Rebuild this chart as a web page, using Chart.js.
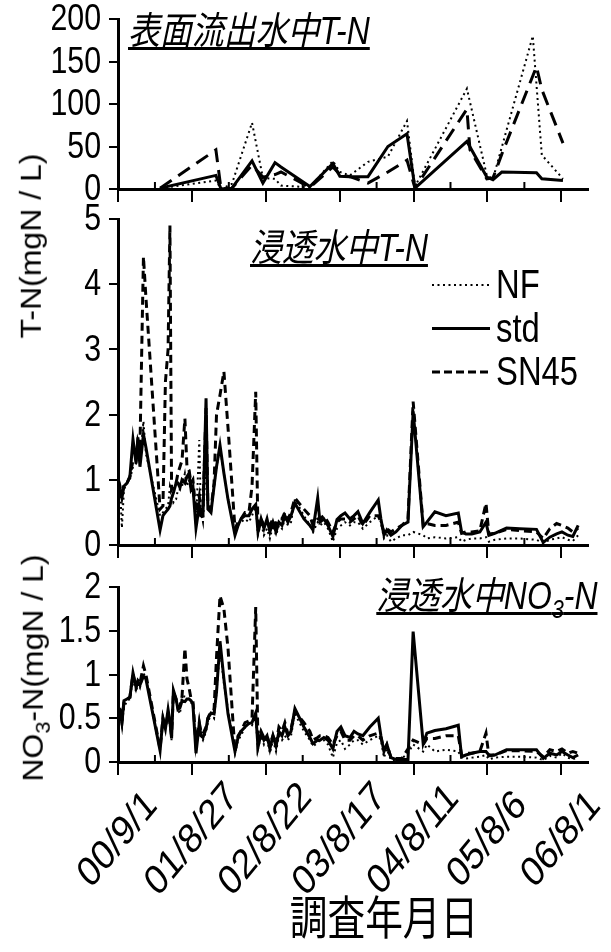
<!DOCTYPE html>
<html>
<head>
<meta charset="utf-8">
<script src="https://cdn.jsdelivr.net/npm/chart.js@4.4.0/dist/chart.umd.min.js"></script>
<style>
  body { margin: 0; background: #fff; }
  #wrap { position: relative; width: 611px; height: 952px; overflow: hidden; color: #000;
          font-family: "Liberation Sans", Arial, "Noto Sans CJK JP", sans-serif; }
  canvas { position: absolute; left: 0; }
  .ttl { position: absolute; font-size: 38px; font-style: italic; line-height: 1; white-space: nowrap;
         text-decoration: underline; text-decoration-thickness: 3px; text-underline-offset: 3px;
         text-decoration-skip-ink: none; transform: scaleX(0.84); transform-origin: left top; }
  .ttl.r { transform-origin: right top; }
  .ylab { position: absolute; font-size: 32px; line-height: 1; white-space: nowrap;
          transform: translate(-50%, -50%) scaleX(0.9) rotate(-90deg); }
  .xlab { position: absolute; font-size: 46px; line-height: 1; white-space: nowrap;
          font-family: "Noto Sans CJK JP", sans-serif; transform: translate(-50%, -50%) scaleX(0.82); }
  sub { font-size: 0.68em; line-height: 0; }
</style>
</head>
<body>
<div id="wrap">
  <canvas id="cSurf" width="611" height="216" style="top:0"></canvas>
  <canvas id="cTN" width="611" height="370" style="top:196px"></canvas>
  <canvas id="cNO3" width="611" height="392" style="top:560px"></canvas>
  <div class="ttl" style="left:128px;top:12px">表面流出水中T-N</div>
  <div class="ttl" style="left:250px;top:229px">浸透水中T-N</div>
  <div class="ttl r" style="right:14px;top:577px">浸透水中NO<sub>3</sub>-N</div>
  <div class="ylab" style="left:31px;top:246px">T-N(mgN / L)</div>
  <div class="ylab" style="left:33px;top:668px">NO<sub>3</sub>-N(mgN / L)</div>
  <div class="xlab" style="left:384px;top:914px">調査年月日</div>
</div>
<script>
// x values are days since 2000-09-01; labelled ticks every 360 days
const tickLabels = ['00/9/1', '01/8/27', '02/8/22', '03/8/17', '04/8/11', '05/8/6', '06/8/1'];
const seriesNames = ['NF', 'std', 'SN45'];

// surface runoff T-N (mgN/L)
const surfDays = [205, 477, 502, 555, 653, 706, 765, 794, 935, 1047, 1081, 1130, 1218, 1315, 1408, 1447, 1700, 1715, 1797, 1827, 1870, 2021, 2039, 2065, 2168];
const surfNF   = [1, 10, 0, 6, 78, 13, 12, 4, 2, 33, 20, 16, 32, 38, 80, 3, 118, null, 16, 12, null, 180, null, 40, 12];
const surfStd  = [1, 16, 0, 1, 33, 7, 31, 26, 3, 30, 15, 14.5, 14.5, 50, 65, 1, 56, null, 14, 11, 20, null, 19, 12, 10];
const surfSN45 = [1, 46, 0, 1, 28, 14, 17, 20, 2, 26, 17, 14.5, 7, 20, 34, 1, 94, 46, 12, 13, 41, null, 144, 117, 54];

// percolation water sampling days
const leachDays = [2, 10, 19, 29, 44, 58, 73, 88, 97, 107, 124, 136, 205, 219, 231, 244, 253, 261, 270, 283,
  292, 302, 312, 326, 336, 346, 356, 365, 380, 396, 404, 414, 429, 438, 453, 468, 480, 497, 516, 536,
  570, 585, 599, 619, 638, 653, 671, 682, 697, 711, 726, 740, 755, 770, 784, 799, 813, 828, 843, 862,
  906, 935, 950, 973, 984, 1003, 1023, 1047, 1067, 1086, 1106, 1130, 1150, 1169, 1193, 1227, 1268, 1281, 1296, 1310,
  1330, 1354, 1383, 1413, 1438, 1487, 1505, 1544, 1598, 1658, 1674, 1695, 1724, 1763, 1793, 1807, 1836, 1893, 1958, 2039,
  2072, 2104, 2137, 2163, 2192, 2216, 2242];

// percolation water T-N (mgN/L)
const tnNF = [1.0, 0.9, 0.26, 0.85, 0.95, 1.0, 1.2, 1.25, 1.55, 1.3, 1.9, 1.4, 0.45, 0.5, 0.55, 0.6, 0.9, 0.8, 0.65, 0.7,
  0.85, 0.85, 0.9, 1.1, 0.9, 1.0, 0.85, 0.9, 0.3, 1.61, 0.5, 0.35, 1.3, 0.6, 0.5, 0.9, 1.2, 1.5, 1.1, 0.7,
  0.2, 0.3, 0.35, 0.4, 0.35, 0.45, 0.6, 0.15, 0.35, 0.15, 0.25, 0.1, 0.3, 0.15, 0.3, 0.25, 0.4, 0.3, 0.35, 0.7,
  0.45, 0.3, 0.2, 0.35, 0.3, 0.35, 0.25, 0.05, 0.25, 0.3, 0.35, 0.3, 0.35, 0.35, 0.25, 0.35, 0.45, 0.35, 0.1, 0.15,
  0.05, 0.1, 0.15, 0.15, 0.2, 0.15, 0.1, 0.12, 0.1, 0.12, 0.05, 0.08, 0.1, 0.1, 0.12, 0.05, 0.08, 0.1, 0.1, 0.08,
  0.03, 0.08, 0.1, 0.12, 0.08, 0.06, 0.15];
const tnStd = [0.98, 0.85, 0.72, 0.9, 0.95, 1.05, 1.62, 1.25, 1.65, 1.2, 1.7, 1.5, 0.23, 0.45, 0.5, 0.55, 0.6, 0.72, 0.8, 0.95,
  0.95, 0.88, 1.0, 0.95, 1.05, 1.1, 0.85, 0.9, 0.26, 0.6, 0.45, 0.45, 2.25, 0.55, 0.5, 0.9, 1.2, 1.53, 1.1, 0.7,
  0.15, 0.3, 0.4, 0.45, 0.45, 0.55, 0.62, 0.2, 0.4, 0.25, 0.4, 0.2, 0.35, 0.2, 0.35, 0.3, 0.45, 0.35, 0.45, 0.64,
  0.4, 0.3, 0.23, 0.72, 0.35, 0.4, 0.3, 0.13, 0.39, 0.45, 0.49, 0.4, 0.45, 0.51, 0.33, 0.5, 0.69, 0.4, 0.15, 0.23,
  0.15, 0.2, 0.3, 0.35, 2.05, 0.28, 0.35, 0.51, 0.45, 0.49, 0.2, 0.17, 0.17, 0.2, 0.35, 0.15, 0.18, 0.26, 0.25, 0.24,
  0.04, 0.12, 0.17, 0.2, 0.15, 0.13, 0.3];
const tnSN45 = [1.0, 0.9, 0.8, 0.92, 0.95, 1.05, 1.3, 1.3, 1.6, 1.5, 4.42, 3.8, 0.55, 0.6, 2.5, 3.0, 4.9, 0.85, 0.9, 0.95,
  1.1, 1.2, 1.3, 1.94, 1.2, 1.15, 0.95, 1.0, 0.5, 0.75, 0.5, 0.55, 2.1, 0.6, 0.55, 0.95, 2.0, 2.3, 2.66, 1.8,
  0.25, 0.35, 0.4, 0.5, 0.5, 0.9, 2.35, 0.2, 0.4, 0.3, 0.35, 0.3, 0.4, 0.3, 0.4, 0.4, 0.5, 0.4, 0.5, 0.72,
  0.55, 0.45, 0.3, 0.4, 0.4, 0.45, 0.35, 0.2, 0.35, 0.4, 0.4, 0.35, 0.4, 0.45, 0.3, 0.45, 0.45, 0.35, 0.2, 0.25,
  0.2, 0.25, 0.3, 0.4, 2.2, 0.3, 0.33, 0.3, 0.3, 0.35, 0.18, 0.2, 0.2, 0.22, 0.64, 0.17, 0.18, 0.24, 0.22, 0.2,
  0.1, 0.25, 0.33, 0.3, 0.26, 0.2, 0.26];

// percolation water NO3-N (mgN/L)
const no3NF = [0.55, 0.5, 0.42, 0.62, 0.7, 0.72, 0.95, 0.8, 0.9, 0.85, 1.02, 0.95, 0.14, 0.45, 0.4, 0.55, 0.44, 0.25, 0.78, 0.7,
  0.6, 0.55, 0.75, 0.75, 0.75, 0.7, 0.68, 0.65, 0.15, 0.4, 0.3, 0.25, 0.35, 0.45, 0.55, 0.5, 0.8, 1.3, 0.9, 0.6,
  0.1, 0.25, 0.3, 0.4, 0.45, 0.42, 0.5, 0.15, 0.3, 0.2, 0.28, 0.1, 0.25, 0.12, 0.3, 0.25, 0.3, 0.25, 0.3, 0.55,
  0.35, 0.25, 0.18, 0.22, 0.25, 0.25, 0.2, 0.05, 0.22, 0.25, 0.15, 0.2, 0.25, 0.25, 0.2, 0.25, 0.3, 0.25, 0.05, 0.15,
  0.02, 0.02, 0.04, 0.1, 0.2, 0.12, 0.2, 0.12, 0.14, 0.12, 0.05, 0.04, 0.05, 0.06, 0.08, 0.03, 0.05, 0.06, 0.06, 0.05,
  0.02, 0.07, 0.05, 0.1, 0.05, 0.03, 0.06];
const no3Std = [0.62, 0.6, 0.45, 0.7, 0.72, 0.74, 1.02, 0.86, 0.92, 0.88, 0.98, 0.95, 0.13, 0.5, 0.38, 0.6, 0.46, 0.27, 0.82, 0.72,
  0.6, 0.62, 0.7, 0.69, 0.72, 0.72, 0.7, 0.66, 0.1, 0.44, 0.3, 0.28, 0.38, 0.5, 0.56, 0.55, 0.8, 1.38, 0.95, 0.55,
  0.12, 0.28, 0.35, 0.4, 0.44, 0.45, 0.56, 0.17, 0.33, 0.25, 0.3, 0.15, 0.3, 0.18, 0.35, 0.3, 0.4, 0.3, 0.35, 0.61,
  0.4, 0.28, 0.21, 0.25, 0.25, 0.28, 0.25, 0.15, 0.35, 0.4, 0.3, 0.28, 0.35, 0.32, 0.3, 0.4, 0.5, 0.3, 0.12, 0.2,
  0.05, 0.03, 0.03, 0.03, 1.49, 0.21, 0.33, 0.36, 0.38, 0.42, 0.06, 0.08, 0.1, 0.12, 0.12, 0.08, 0.08, 0.14, 0.14, 0.14,
  0.04, 0.1, 0.08, 0.12, 0.08, 0.05, 0.08];
const no3SN45 = [0.6, 0.55, 0.45, 0.68, 0.72, 0.74, 1.0, 0.85, 0.93, 0.9, 1.1, 1.0, 0.15, 0.5, 0.4, 0.55, 0.45, 0.3, 0.8, 0.72,
  0.62, 0.65, 0.75, 1.3, 0.95, 0.85, 0.72, 0.7, 0.2, 0.45, 0.35, 0.32, 0.4, 0.5, 0.58, 0.6, 1.2, 1.9, 1.75, 1.3,
  0.12, 0.3, 0.35, 0.45, 0.47, 0.5, 1.77, 0.2, 0.35, 0.28, 0.3, 0.2, 0.3, 0.2, 0.4, 0.35, 0.45, 0.32, 0.38, 0.58,
  0.45, 0.35, 0.25, 0.28, 0.3, 0.3, 0.28, 0.2, 0.3, 0.35, 0.25, 0.25, 0.3, 0.3, 0.25, 0.3, 0.33, 0.28, 0.14, 0.2,
  0.05, 0.04, 0.04, 0.15, 0.25, 0.2, 0.27, 0.27, 0.3, 0.3, 0.08, 0.1, 0.1, 0.12, 0.33, 0.07, 0.08, 0.13, 0.13, 0.12,
  0.06, 0.14, 0.12, 0.15, 0.1, 0.12, 0.1];

const FONT = '"Liberation Sans", Arial, sans-serif';
const SQUEEZE = 0.82;   // the original figure's text is horizontally compressed
Chart.defaults.font.family = FONT;
Chart.defaults.font.size = 30;
Chart.defaults.color = '#000';

// inward minor ticks halfway between the labelled dates
const minorTicks = {
  id: 'minorTicks',
  afterDraw(chart) {
    const x = chart.scales.x, ctx = chart.ctx, b = chart.chartArea.bottom;
    ctx.save();
    ctx.strokeStyle = '#000';
    ctx.lineWidth = 2;
    x.ticks.forEach(t => {
      if (t.value % 360 === 0) return;
      const px = x.getPixelForValue(t.value);
      ctx.beginPath();
      ctx.moveTo(px, b);
      ctx.lineTo(px, b - 7);
      ctx.stroke();
    });
    ctx.restore();
  }
};

// tick labels drawn with condensed text at the scales' own tick positions
const squeezedLabels = {
  id: 'squeezedLabels',
  afterDraw(chart, args, o) {
    const { ctx, chartArea: a } = chart;
    const { x, y } = chart.scales;
    ctx.save();
    ctx.fillStyle = '#000';
    ctx.font = o.ySize + 'px ' + FONT;
    ctx.textAlign = 'right';
    ctx.textBaseline = 'middle';
    y.ticks.forEach(t => {
      ctx.save();
      ctx.translate(a.left - 17, y.getPixelForValue(t.value));
      ctx.scale(SQUEEZE, 1);
      ctx.fillText(t.label, 0, 1);
      ctx.restore();
    });
    if (o.xLabels) {
      ctx.font = o.xSize + 'px ' + FONT;
      ctx.textAlign = 'center';
      x.ticks.forEach(t => {
        if (!t.label) return;
        ctx.save();
        ctx.translate(x.getPixelForValue(t.value), a.bottom + o.xDrop);
        ctx.scale(SQUEEZE, 1);
        ctx.rotate(-Math.PI / 4);
        ctx.fillText(t.label, 0, 0);
        ctx.restore();
      });
    }
    ctx.restore();
  }
};

// legend with line samples, placed inside the plot area
const lineLegend = {
  id: 'lineLegend',
  afterDatasetsDraw(chart, args, opts) {
    if (!opts.show) return;
    const { ctx, chartArea: a } = chart;
    ctx.save();
    ctx.font = '40px ' + FONT;
    ctx.textBaseline = 'middle';
    ctx.fillStyle = '#000';
    chart.data.datasets.forEach((ds, i) => {
      const y = a.top + opts.top + i * opts.gap;
      const x0 = a.right - opts.right;
      ctx.beginPath();
      ctx.setLineDash(ds.legendDash || []);
      ctx.lineWidth = ds.borderWidth;
      ctx.strokeStyle = ds.borderColor;
      ctx.moveTo(x0, y);
      ctx.lineTo(x0 + opts.len, y);
      ctx.stroke();
      ctx.setLineDash([]);
      ctx.save();
      ctx.translate(x0 + opts.len + 6, y + 2);
      ctx.scale(SQUEEZE, 1);
      ctx.fillText(ds.label, 0, 0);
      ctx.restore();
    });
    ctx.restore();
  }
};

function makePanel(id, days, series, yMax, yStep, cfg) {
  const dashes = [[2, 3.5], [], cfg.sn45Dash];
  const widths = [2, 3, 3];
  const legendDashes = [[2, 3.5], [], [8, 4]];
  return new Chart(document.getElementById(id), {
    type: 'line',
    data: {
      datasets: seriesNames.map((name, i) => ({
        label: name,
        data: days.map((d, k) => ({ x: d, y: series[i][k] })),
        borderColor: '#000',
        borderWidth: widths[i],
        borderDash: dashes[i],
        legendDash: legendDashes[i],
        pointRadius: 0,
        tension: 0,
        spanGaps: true,
        fill: false
      }))
    },
    options: {
      responsive: false,
      animation: false,
      devicePixelRatio: 1,
      layout: { padding: { top: cfg.top, right: 23, left: 0, bottom: 0 } },
      plugins: {
        legend: { display: false },
        tooltip: { enabled: false },
        lineLegend: { show: !!cfg.legend, top: 66, gap: 43.5, right: 156, len: 58 },
        squeezedLabels: { ySize: 37, xSize: 42, xDrop: 78, xLabels: !!cfg.labels }
      },
      scales: {
        x: {
          type: 'linear',
          min: 0,
          max: 2290,
          // one tick every half interval up to the last labelled date
          afterBuildTicks: s => {
            s.ticks = [];
            for (let v = 0; v <= (tickLabels.length - 1) * 360; v += 180) s.ticks.push({ value: v });
          },
          afterFit: s => {
            s.height = cfg.xHeight;
            s.paddingLeft = 0; s.paddingRight = 0;
          },
          ticks: {
            display: false,
            autoSkip: false,
            callback: v => (v % 360 === 0 ? tickLabels[v / 360] : '')
          },
          grid: {
            drawOnChartArea: false,
            tickLength: 13,
            color: '#000',
            lineWidth: c => (c.tick && c.tick.value % 360 === 0 ? 2 : 0)
          },
          border: { color: '#000', width: 3 }
        },
        y: {
          min: 0,
          max: yMax,
          afterFit: s => {
            s.width = 118;
            s.paddingTop = 0; s.paddingBottom = 0;
          },
          ticks: { display: false, stepSize: yStep, autoSkip: false, callback: v => String(v) },
          grid: { drawOnChartArea: false, tickLength: 9, color: '#000', lineWidth: 2 },
          border: { color: '#000', width: 3 }
        }
      }
    },
    plugins: [minorTicks, squeezedLabels, lineLegend]
  });
}

makePanel('cSurf', surfDays, [surfNF, surfStd, surfSN45], 200, 50,
  { top: 19, xHeight: 27, sn45Dash: [14, 8] });
makePanel('cTN', leachDays, [tnNF, tnStd, tnSN45], 5, 1,
  { top: 23, xHeight: 21, sn45Dash: [8, 5], legend: true });
makePanel('cNO3', leachDays, [no3NF, no3Std, no3SN45], 2, 0.5,
  { top: 27, xHeight: 190, sn45Dash: [8, 5], labels: true });
</script>
</body>
</html>
